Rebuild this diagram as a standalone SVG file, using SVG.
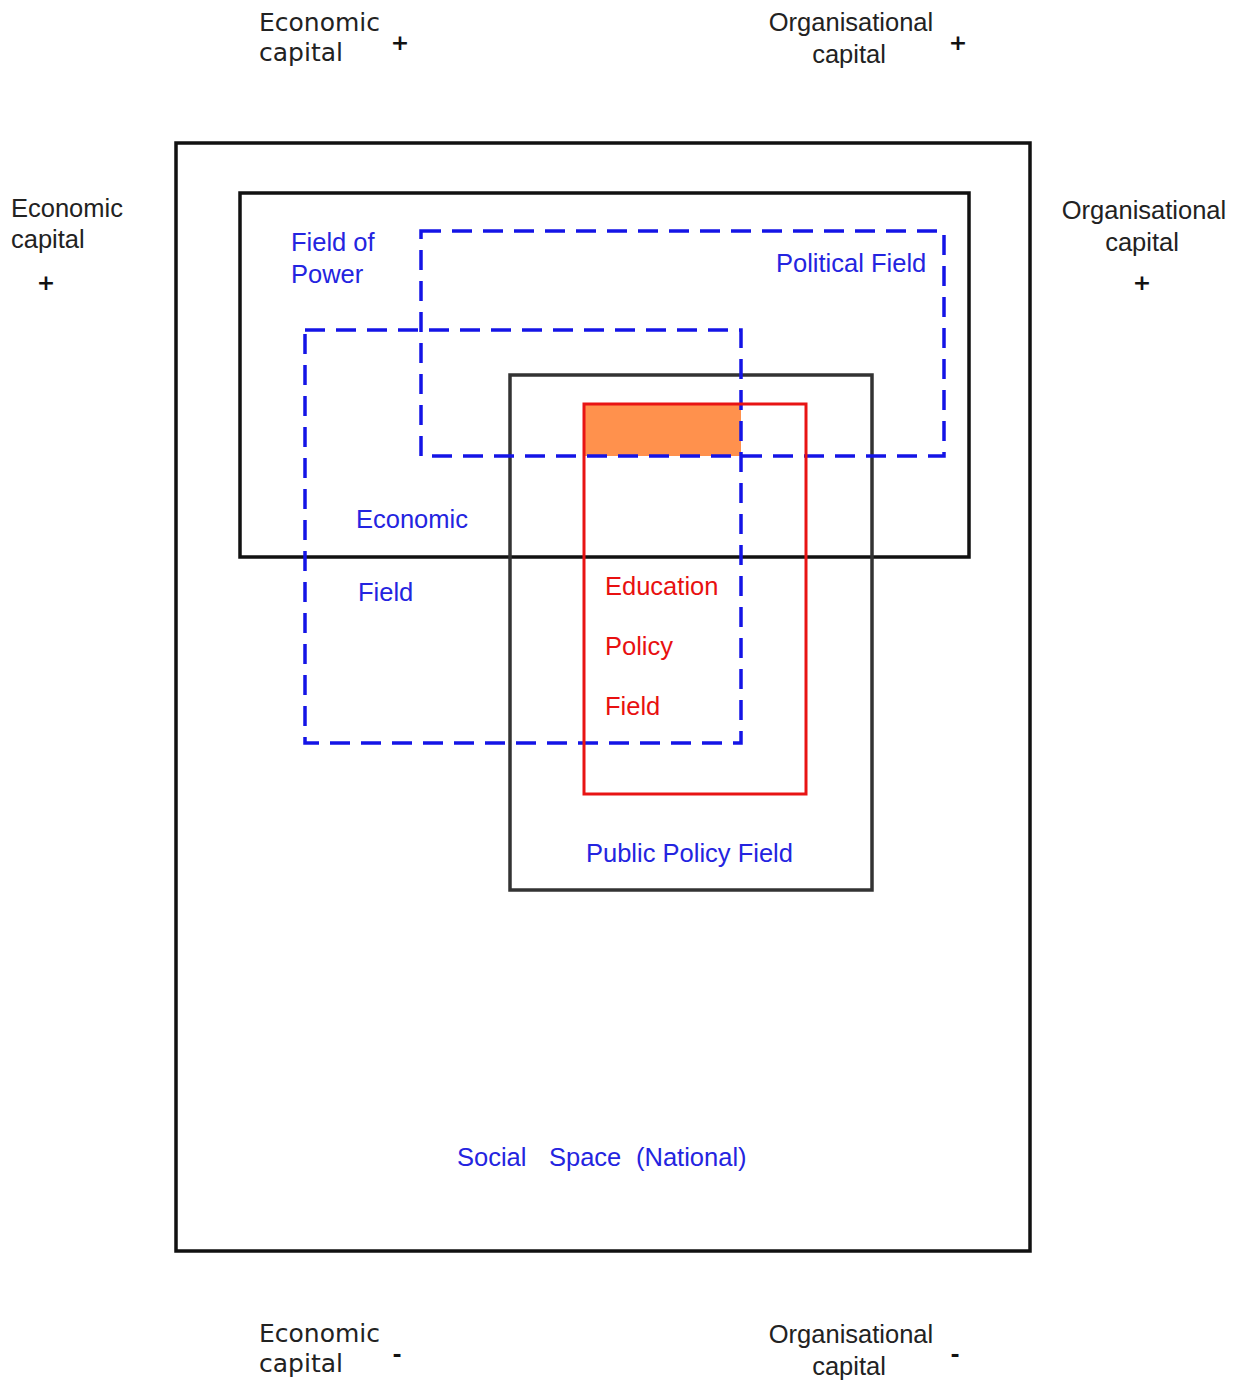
<svg xmlns="http://www.w3.org/2000/svg" width="1248" height="1382" viewBox="0 0 1248 1382">
<style>
.lab{font-family:"Liberation Sans",Arial,sans-serif;font-size:25.5px;fill:#222}
.ver{font-family:"DejaVu Sans",Verdana,sans-serif;font-size:25px;fill:#222}
.blue{font-family:"Liberation Sans",Arial,sans-serif;font-size:25.5px;fill:#2424e0}
.red{font-family:"Liberation Sans",Arial,sans-serif;font-size:25.5px;fill:#e81010}
.solid{fill:none;stroke:#111;stroke-width:3.5}
.gray{fill:none;stroke:#333;stroke-width:3.5}
.dash{fill:none;stroke:#1414e6;stroke-width:3.5;stroke-dasharray:20 11}
.pm{font-family:"DejaVu Sans",sans-serif;font-size:22px;fill:#111;font-weight:bold}
</style>
<rect width="1248" height="1382" fill="#fff"/>
<g id="axis-labels">
<text class="ver" x="259" y="31">Economic</text>
<text class="ver" x="259" y="61">capital</text>
<text class="pm" x="400" y="50" text-anchor="middle">+</text>
<text class="lab" x="851" y="31" text-anchor="middle">Organisational</text>
<text class="lab" x="849" y="63" text-anchor="middle">capital</text>
<text class="pm" x="958" y="50" text-anchor="middle">+</text>
<text class="lab" x="11" y="217">Economic</text>
<text class="lab" x="11" y="248">capital</text>
<text class="pm" x="46" y="290" text-anchor="middle" font-size="18">+</text>
<text class="lab" x="1144" y="219" text-anchor="middle">Organisational</text>
<text class="lab" x="1142" y="251" text-anchor="middle">capital</text>
<text class="pm" x="1142" y="290" text-anchor="middle" font-size="18">+</text>
<text class="ver" x="259" y="1342">Economic</text>
<text class="ver" x="259" y="1372">capital</text>
<text class="pm" x="397" y="1362" text-anchor="middle">-</text>
<text class="lab" x="851" y="1343" text-anchor="middle">Organisational</text>
<text class="lab" x="849" y="1375" text-anchor="middle">capital</text>
<text class="pm" x="955" y="1362" text-anchor="middle">-</text>
</g>
<g id="social-space">
<rect class="solid" x="176" y="143" width="854" height="1108"/>
<text class="blue" x="457" y="1166">Social</text>
<text class="blue" x="549" y="1166">Space</text>
<text class="blue" x="636" y="1166">(National)</text>
</g>
<g id="field-of-power">
<rect class="solid" x="240" y="193" width="729" height="364"/>
<text class="blue" x="291" y="251">Field of</text>
<text class="blue" x="291" y="283">Power</text>
</g>
<g id="public-policy-field">
<rect class="gray" x="510" y="375" width="362" height="515"/>
<text class="blue" x="586" y="862">Public Policy Field</text>
</g>
<g id="overlap">
<rect x="584" y="404" width="157" height="52" fill="#ff914d"/>
</g>
<g id="economic-field">
<rect class="dash" x="305" y="330" width="436" height="413"/>
<text class="blue" x="356" y="528">Economic</text>
<text class="blue" x="358" y="601">Field</text>
</g>
<g id="political-field">
<rect class="dash" x="421" y="231" width="523" height="225"/>
<text class="blue" x="776" y="272">Political Field</text>
</g>
<g id="education-policy-field">
<rect x="584" y="404" width="222" height="390" fill="none" stroke="#e81414" stroke-width="3"/>
<text class="red" x="605" y="595">Education</text>
<text class="red" x="605" y="655">Policy</text>
<text class="red" x="605" y="715">Field</text>
</g>
<g id="connectors"></g>
</svg>
